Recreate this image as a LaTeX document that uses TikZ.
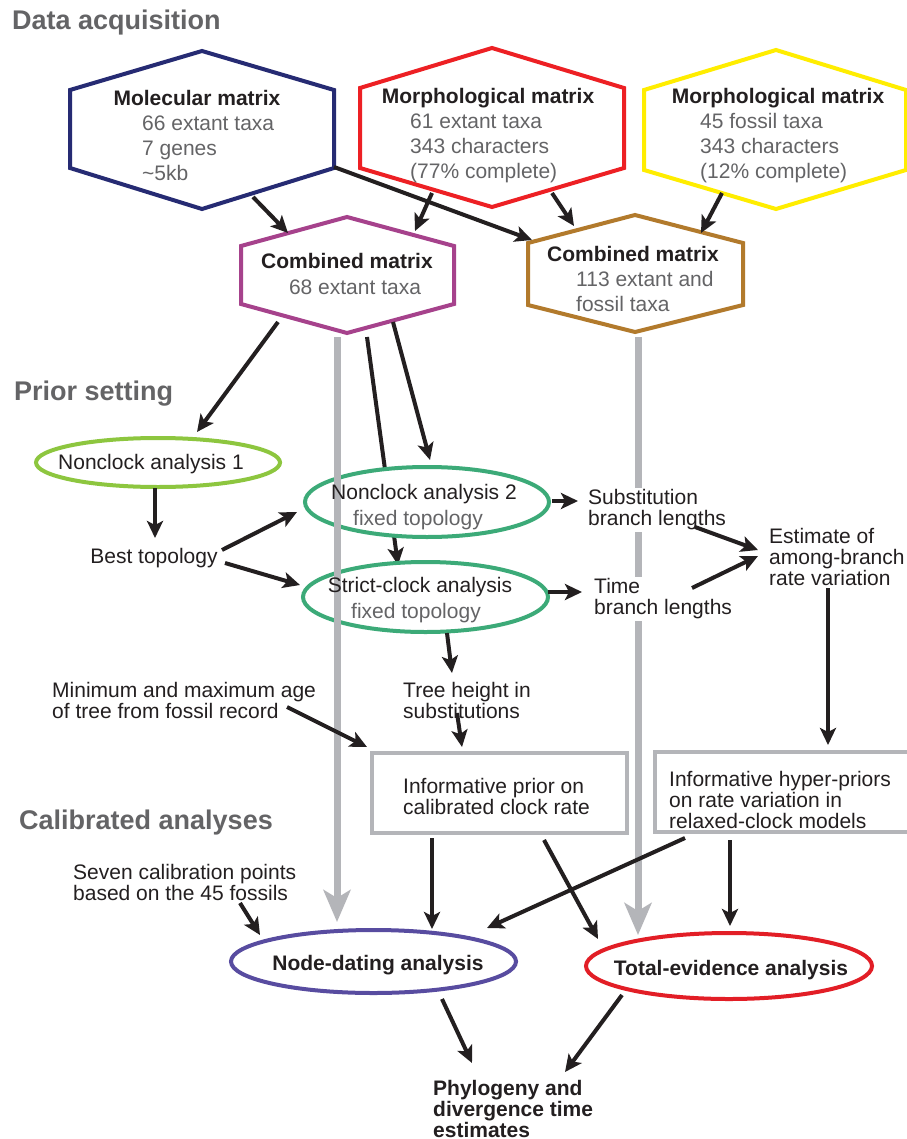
\documentclass[tikz,border=0pt]{standalone}
\usepackage{fontspec}
\setmainfont{Liberation Sans}
\usetikzlibrary{arrows.meta,shapes.geometric}
\definecolor{navy}{RGB}{38,43,115}
\definecolor{hexred}{RGB}{237,32,36}
\definecolor{hexyellow}{RGB}{255,237,0}
\definecolor{hexpurple}{RGB}{166,66,140}
\definecolor{hexbrown}{RGB}{178,122,44}
\definecolor{greenA}{RGB}{141,198,63}
\definecolor{greenB}{RGB}{60,170,120}
\definecolor{ndblue}{RGB}{88,76,160}
\definecolor{tered}{RGB}{226,30,38}
\definecolor{gline}{RGB}{180,181,185}
\definecolor{titlegray}{RGB}{100,100,102}
\definecolor{tgray}{RGB}{100,100,102}
\definecolor{dark}{RGB}{35,31,32}
\begin{document}
\begin{tikzpicture}[x=1pt,y=-1pt,
  hexa/.style={line width=4pt, line join=miter},
  ell/.style={ellipse, draw, line width=4pt, fill=white, inner sep=0pt, outer sep=0pt},
  arr/.style={line width=4pt, draw=dark, -{Stealth[length=17pt,width=16pt,inset=4pt]}},
  garr/.style={line width=7pt, draw=gline, -{Stealth[length=32pt,width=27pt,inset=8pt]}},
  body/.style={font=\fontsize{21}{21}\selectfont, text=dark, inner sep=0pt, align=left},
  bodyb/.style={font=\fontsize{21}{21}\selectfont\bfseries, text=dark, inner sep=0pt, align=left},
  subt/.style={font=\fontsize{21}{25}\selectfont, text=tgray, inner sep=0pt, align=left},
  ttl/.style={font=\fontsize{27}{27}\selectfont\bfseries, text=titlegray, inner sep=0pt, anchor=west},
  gbox/.style={draw=gline, line width=4pt}
]
\useasboundingbox (0,0) rectangle (906,1139);
\fill[white] (0,0) rectangle (906,1139);

% titles
\node[ttl] (t1) at (12,23) {Data acquisition};
\node[ttl] (t2) at (14,394) {Prior setting};
\node[ttl] (t3) at (19,823) {Calibrated analyses};

% hexagons
\draw[hexa, draw=navy] (202,51) -- (334,90) -- (334,168) -- (202,209) -- (70,168) -- (70,90) -- cycle;
\draw[hexa, draw=hexred] (492,48) -- (624,88) -- (624,168) -- (492,207) -- (360,168) -- (360,88) -- cycle;
\draw[hexa, draw=hexyellow] (776,50) -- (906,90) -- (906,170) -- (776,209) -- (644,170) -- (644,90) -- cycle;
\draw[hexa, draw=hexpurple] (347,217) -- (454,246) -- (454,304) -- (347,333) -- (241,304) -- (241,246) -- cycle;
\draw[hexa, draw=hexbrown] (635,215) -- (743,243) -- (743,305) -- (635,332) -- (528,305) -- (528,243) -- cycle;

\node[bodyb] (molT) at (197,98) {Molecular matrix};
\node[subt, anchor=west] (molS) at (142,148) {66 extant taxa\\7 genes\\\textasciitilde5kb};
\node[bodyb] (mrT) at (488,98) {Morphological matrix};
\node[subt, anchor=west] (mrS) at (410,148) {61 extant taxa\\343 characters\\(77\% complete)};
\node[bodyb] (myT) at (778,98) {Morphological matrix};
\node[subt, anchor=west] (myS) at (700,148) {45 fossil taxa\\343 characters\\(12\% complete)};
\node[bodyb] (cpT) at (347,261) {Combined matrix};
\node[subt] (cpS) at (355,287) {68 extant taxa};
\node[bodyb] (cbT) at (633,254) {Combined matrix};
\node[subt, anchor=west] (cbS) at (576,291) {113 extant and\\fossil taxa};

% connector end points
\coordinate (a1s) at (253,197); \coordinate (a1e) at (288,233);
\coordinate (a2s) at (432,193); \coordinate (a2e) at (415,231);
\coordinate (a3s) at (334,167); \coordinate (a3e) at (532,240);
\coordinate (a4s) at (552,193); \coordinate (a4e) at (574,226);
\coordinate (a5s) at (722,193); \coordinate (a5e) at (701,233);
\coordinate (a6s) at (278,322); \coordinate (a6e) at (197,432);
\coordinate (a7s) at (367,337); \coordinate (a7e) at (398,565);
\coordinate (a8s) at (393,322); \coordinate (a8e) at (430,460);
\coordinate (g1s) at (337,337); \coordinate (g1e) at (337,922);
\coordinate (g2s) at (638,337); \coordinate (g2e) at (638,935);

% arrow passing behind Nonclock analysis 2
\draw[arr] (a7s) -- (a7e);

% ellipses
\node[ell, draw=greenA, minimum width=244pt, minimum height=49pt] (nc1) at (158,462.5) {};
\node[ell, draw=greenB, minimum width=244pt, minimum height=70pt] (nc2) at (427,502) {};
\node[ell, draw=greenB, minimum width=245pt, minimum height=70pt] (sc) at (425.5,597) {};
\node[ell, draw=ndblue, minimum width=285pt, minimum height=63pt] (nd) at (373.5,961.5) {};
\node[ell, draw=tered, minimum width=286pt, minimum height=66pt] (te) at (729,966) {};

% boxes
\node[gbox, minimum width=255pt, minimum height=80pt, inner sep=0pt] (inf) at (499.5,793) {};
\node[gbox, minimum width=255pt, minimum height=80pt, inner sep=0pt] (hyp) at (782.5,792) {};

% grey arrows
\draw[garr] (g1s) -- (g1e);
\draw[garr] (g2s) -- (g2e);

% text nodes with white background over grey line
\node[body, fill=white, anchor=west, inner ysep=2pt] (subst) at (588,510) {Substitution\\branch lengths};
\node[body, fill=white, anchor=west, inner ysep=2pt] (time) at (594,599) {Time\\branch lengths};

% texts
\node[body] (nc1T) at (151,464) {Nonclock analysis 1};
\node[body] (nc2T) at (424,494) {Nonclock analysis 2};
\node[body, text=tgray] (nc2S) at (418,520) {fixed topology};
\node[body] (scT) at (420,587) {Strict-clock analysis};
\node[body, text=tgray] (scS) at (416,613) {fixed topology};
\node[body] (best) at (154,558) {Best topology};
\node[body, anchor=west] (est) at (769,557) {Estimate of\\among-branch\\rate variation};
\node[body, anchor=west] (tree) at (403,700) {Tree height in\\substitutions};
\node[body, anchor=west] (minmax) at (52,700) {Minimum and maximum age\\of tree from fossil record};
\node[body, anchor=west] (infT) at (403,796) {Informative prior on\\calibrated clock rate};
\node[body, anchor=west] (hypT) at (669,800) {Informative hyper-priors\\on rate variation in\\relaxed-clock models};
\node[body, anchor=west] (seven) at (73,882) {Seven calibration points\\based on the 45 fossils};
\node[bodyb] (ndT) at (378,965) {Node-dating analysis};
\node[bodyb] (teT) at (731,970) {Total-evidence analysis};
\node[bodyb, anchor=west] (phylo) at (433,1109) {Phylogeny and\\divergence time\\estimates};

% more end points
\coordinate (a9s) at (155,488); \coordinate (a9e) at (155,538);
\coordinate (a10s) at (222,550); \coordinate (a10e) at (297,512);
\coordinate (a11s) at (225,563); \coordinate (a11e) at (300,585);
\coordinate (a12s) at (552,501); \coordinate (a12e) at (578,501);
\coordinate (a13s) at (548,592); \coordinate (a13e) at (582,592);
\coordinate (a14s) at (695,527); \coordinate (a14e) at (758,550);
\coordinate (a15s) at (692,588); \coordinate (a15e) at (758,556);
\coordinate (a16s) at (828,588); \coordinate (a16e) at (828,745);
\coordinate (a17s) at (447,633); \coordinate (a17e) at (452,673);
\coordinate (a18s) at (457,713); \coordinate (a18e) at (462,747);
\coordinate (a19s) at (287,707); \coordinate (a19e) at (367,747);
\coordinate (a20s) at (240,903); \coordinate (a20e) at (260,935);
\coordinate (a21s) at (432,838); \coordinate (a21e) at (432,929);
\coordinate (a22s) at (544,840); \coordinate (a22e) at (598,939);
\coordinate (a23s) at (685,838); \coordinate (a23e) at (487,928);
\coordinate (a24s) at (730,840); \coordinate (a24e) at (730,926);
\coordinate (a25s) at (442,999); \coordinate (a25e) at (472,1063);
\coordinate (a26s) at (622,995); \coordinate (a26e) at (565,1072);

% black arrows
\foreach \i in {1,2,3,4,5,6,8,9,10,11,12,13,14,15,16,17,18,19,20,21,22,23,24,25,26}
  \draw[arr] (a\i s) -- (a\i e);
\end{tikzpicture}
\end{document}
